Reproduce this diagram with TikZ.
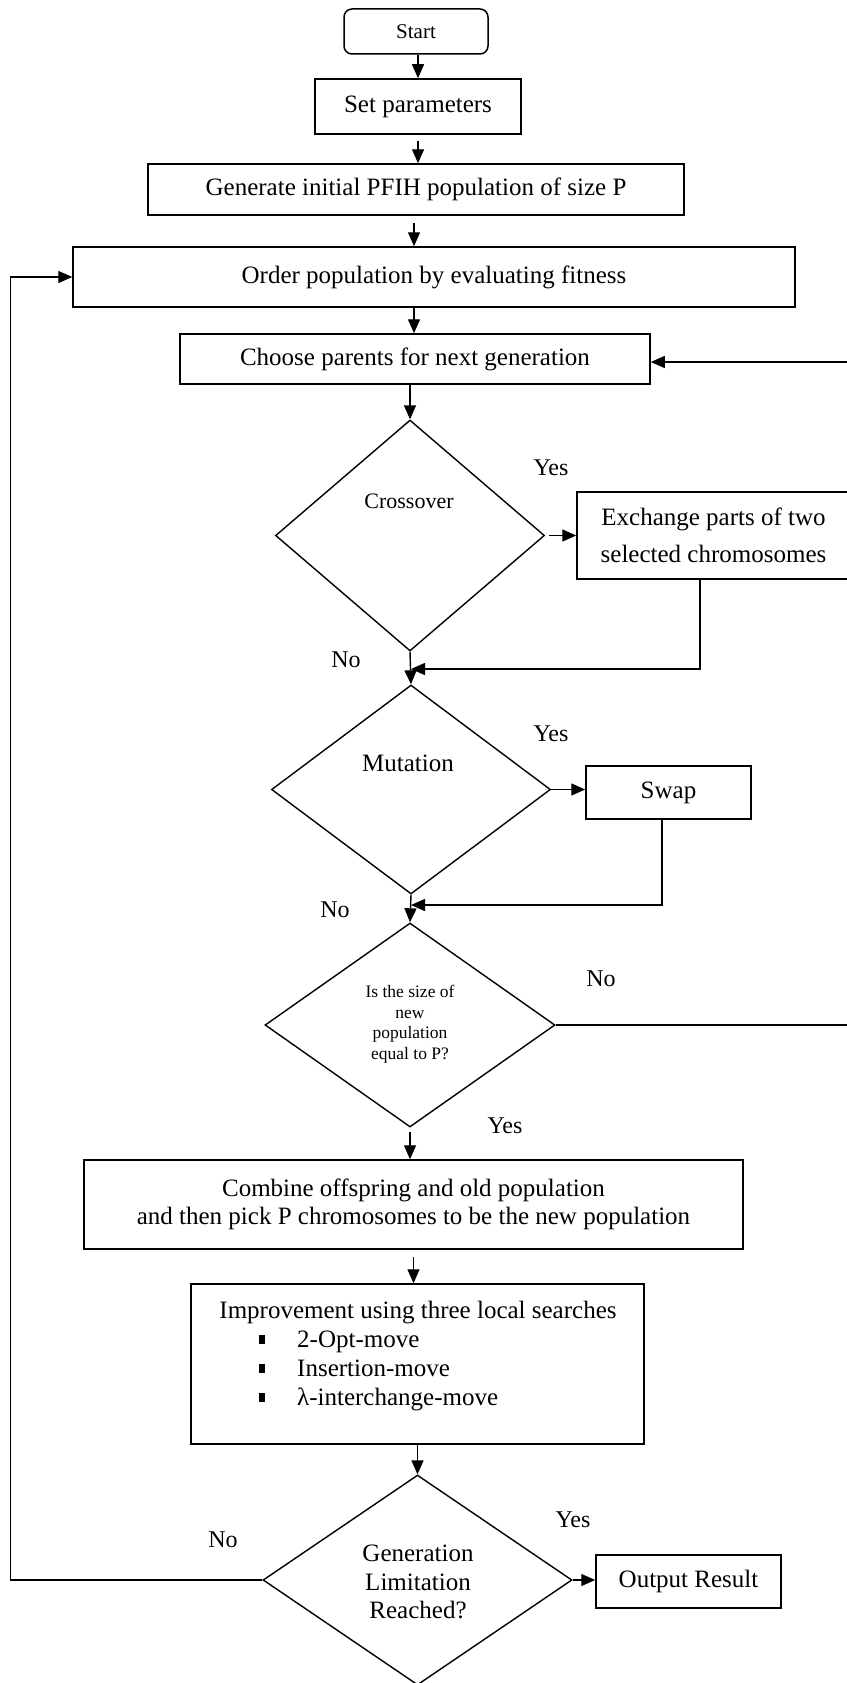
\documentclass[tikz,border=0pt]{standalone}
\usepackage{fontspec}
\setmainfont{Liberation Serif}
\usetikzlibrary{arrows.meta,shapes.geometric,calc}
\begin{document}
\begin{tikzpicture}[x=1pt,y=-1pt,
  box/.style={draw, line width=1.5pt, rectangle, inner sep=0pt, align=center, font=\fontsize{25}{28}\selectfont},
  dia/.style={draw, line width=1.4pt, diamond, inner sep=0pt},
  lbl/.style={inner sep=0pt, font=\fontsize{24}{28}\selectfont},
  txt/.style={inner sep=0pt, align=center, font=\fontsize{25}{28.5}\selectfont},
  arr/.style={line width=1.4pt, -{Triangle[length=14pt,width=12pt]}},
  ln/.style={line width=1.4pt},
]
\useasboundingbox (0,0) rectangle (846,1683);

% boxes
\node[box, rounded corners=8pt, minimum width=144pt, minimum height=45pt, font=\fontsize{21}{24}\selectfont] (start) at (416,31.5) {Start};
\node[box, minimum width=206pt, minimum height=55pt] (set) at (418,106.5) {Set parameters};
\node[box, minimum width=536pt, minimum height=51pt] (gen) at (416,189.5) {Generate initial PFIH population of size P};
\node[box, minimum width=722pt, minimum height=60pt] (order) at (434,277) {Order population by evaluating fitness};
\node[box, minimum width=470pt, minimum height=50pt] (choose) at (415,359) {Choose parents for next generation};

% crossover
\node[dia, minimum width=269pt, minimum height=231pt] (cross) at (410,535.5) {};
\node[txt, font=\fontsize{22}{26}\selectfont] (crosst) at (409,501) {Crossover};
\node[box, minimum width=273pt, minimum height=87pt, font=\fontsize{25}{37}\selectfont] (exch) at (713.5,535.5) {Exchange parts of two\\selected chromosomes};

% mutation
\node[dia, minimum width=279pt, minimum height=209pt] (mut) at (411,789.5) {};
\node[txt] (mutt) at (408,763) {Mutation};
\node[box, minimum width=165pt, minimum height=53pt] (swap) at (668.5,792.5) {Swap};

% size
\node[dia, minimum width=290pt, minimum height=204pt] (size) at (410,1025) {};
\node[txt, font=\fontsize{17.5}{20.5}\selectfont] (sizet) at (410,1024) {Is the size of\\new\\population\\equal to P?};

% combine
\node[box, minimum width=659pt, minimum height=89pt] (comb) at (413.5,1204.5) {Combine offspring and old population\\and then pick P chromosomes to be the new population};

% improvement
\node[box, minimum width=453pt, minimum height=160pt] (imp) at (417.5,1364) {};
\node[txt, anchor=base] (impt) at (418,1318) {Improvement using three local searches};
\node[txt, anchor=base west] (imp1) at (259,1347) {\rule[3pt]{6pt}{9pt}\hspace{32pt}2-Opt-move};
\node[txt, anchor=base west] (imp2) at (259,1376) {\rule[3pt]{6pt}{9pt}\hspace{32pt}Insertion-move};
\node[txt, anchor=base west] (imp3) at (259,1405) {\rule[3pt]{6pt}{9pt}\hspace{32pt}λ-interchange-move};

% generation limitation
\node[dia, minimum width=309pt, minimum height=210pt] (gl) at (417.5,1580) {};
\node[txt] (glt) at (418,1582) {Generation\\Limitation\\Reached?};
\node[box, minimum width=185pt, minimum height=53pt] (out) at (688.5,1581.5) {Output Result};

% labels
\node[lbl] (y1) at (551,468) {Yes};
\node[lbl] (n1) at (346,660) {No};
\node[lbl] (y2) at (551,734) {Yes};
\node[lbl] (n2) at (335,910) {No};
\node[lbl] (n3) at (601,979) {No};
\node[lbl] (y3) at (505,1126) {Yes};
\node[lbl] (y4) at (573,1520) {Yes};
\node[lbl] (n4) at (223,1540) {No};

% junction points
\coordinate (j1) at (411,669);
\coordinate (j2) at (411,905);

% connectors
\draw[arr] (start.south -| set.north) -- (set.north);
\draw[arr, shorten <=6pt] (set.south) -- (set.south |- gen.north);
\draw[arr, shorten <=7pt] ([xshift=-2pt]gen.south) -- ([xshift=-2pt]gen.south |- order.north);
\draw[arr] ([xshift=-20pt]order.south) -- ([xshift=-20pt]order.south |- choose.north);
\draw[arr] (cross.north |- choose.south) -- (cross.north);
\draw[arr, shorten <=4pt] (cross.east) -- (cross.east -| exch.west);
\draw[arr] (cross.south) -- (mut.north);
\draw[ln] ([xshift=-13.5pt]exch.south) |- ($(j1)+(20,0)$);
\draw[arr] ($(j1)+(20,0)$) -- (j1);
\draw[arr] (mut.east) -- (mut.east -| swap.west);
\draw[arr] (mut.south) -- (size.north);
\draw[ln] ([xshift=-6.5pt]swap.south) |- ($(j2)+(20,0)$);
\draw[arr] ($(j2)+(20,0)$) -- (j2);
\draw[arr] (size.east) -- ++(310,0) |- ([yshift=-3pt]choose.east);
\draw[arr, shorten <=4pt] (size.south) -- (size.south |- comb.north);
\draw[arr, shorten <=7pt] (comb.south) -- (comb.south |- imp.north);
\draw[arr] (imp.south -| gl.north) -- (gl.north);
\draw[arr] (gl.east) -- (gl.east -| out.west);
\draw[arr] (gl.west) -- ++(-252,0) |- (order.west);
\end{tikzpicture}
\end{document}
